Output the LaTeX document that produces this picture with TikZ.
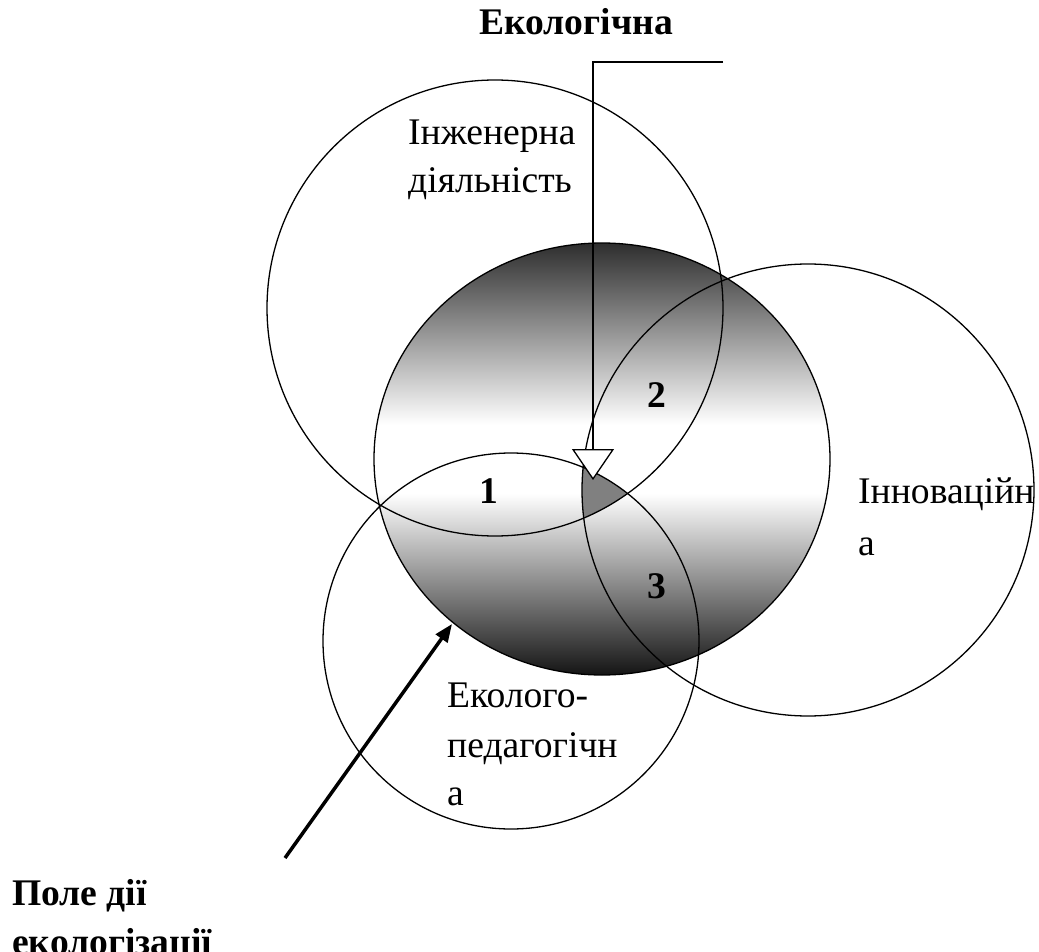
\documentclass[tikz,border=0pt]{standalone}
\usepackage{fontspec}
\setmainfont{Liberation Serif}
\usetikzlibrary{arrows.meta}
\pgfdeclareverticalshading{fieldshade}{100bp}{color(0bp)=(black!92); color(25bp)=(black!92); color(46bp)=(white); color(54bp)=(white); color(75bp)=(black!82); color(100bp)=(black!82)}
\begin{document}
\begin{tikzpicture}[x=1pt,y=-1pt,
  lbl/.style={inner sep=0pt,font=\fontsize{37.6}{48}\selectfont},
  blbl/.style={inner sep=0pt,font=\fontsize{37.6}{48}\selectfont\bfseries},
  ring/.style={draw=black,line width=1.3pt}]
\useasboundingbox (0,0) rectangle (1039,952);
\coordinate (Tc) at (495,308);
\coordinate (Rc) at (808,490);
\coordinate (Bc) at (511,641);
\coordinate (Ec) at (602,459);
% shaded field
\shade[shading=fieldshade,draw=black,line width=1.3pt]
  (Ec) ellipse [x radius=228,y radius=216];
% triple intersection
\begin{scope}
  \clip (Tc) circle [radius=228];
  \clip (Rc) circle [radius=226];
  \fill[black!50] (Bc) circle [radius=188];
\end{scope}
\draw[ring] (Tc) circle [radius=228];
\draw[ring] (Rc) circle [radius=226];
\draw[ring] (Bc) circle [radius=188];
% labels
\node[blbl,anchor=base east] (eco) at (673,35) {Екологічна};
\node[lbl,anchor=base west] (ing1) at (408,145) {Інженерна};
\node[lbl,anchor=base west] (ing2) at (408,193) {діяльність};
\node[lbl,anchor=base west] (inn1) at (858,503) {Інноваційн};
\node[lbl,anchor=base west] (inn2) at (858,555) {а};
\node[lbl,anchor=base west] (ped1) at (447,707) {Еколого-};
\node[lbl,anchor=base west] (ped2) at (447,757) {педагогічн};
\node[lbl,anchor=base west] (ped3) at (447,805) {а};
\node[blbl,anchor=base] (n1) at (489,503) {1};
\node[blbl,anchor=base] (n2) at (657,407) {2};
\node[blbl,anchor=base] (n3) at (657,598) {3};
\node[blbl,anchor=base west] (pole1) at (12,905) {Поле дії};
\node[blbl,anchor=base west] (pole2) at (12,954) {екологізації};
% arrows
\coordinate (ecoR) at (723,62);
\coordinate (ecoC) at (593,62);
\coordinate (ecoTip) at (593,480);
\draw[line width=1.5pt,-{Triangle[width=42pt,length=31pt,fill=white,line width=1.3pt]}]
  (ecoR) -- (ecoC) -- (ecoTip);
\coordinate (poleS) at (285,858);
\coordinate (poleTip) at (452,624);
\draw[line width=3.5pt,-{Triangle[width=14pt,length=18pt]}] (poleS) -- (poleTip);
\end{tikzpicture}
\end{document}
